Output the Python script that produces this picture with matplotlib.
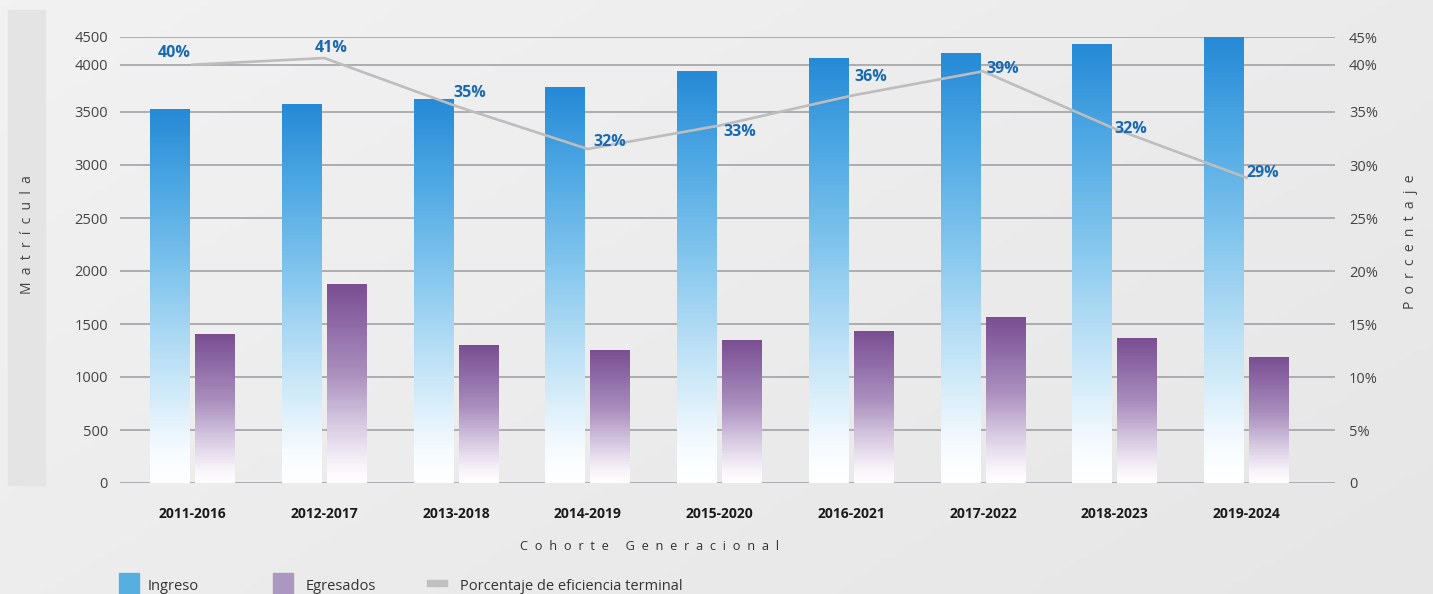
import numpy as np
import matplotlib.pyplot as plt
from matplotlib.colors import LinearSegmentedColormap
from matplotlib.patches import Rectangle

plt.rcParams['font.family'] = ['Open Sans', 'DejaVu Sans']

# data
cohortes = ["2011-2016", "2012-2017", "2013-2018", "2014-2019", "2015-2020",
            "2016-2021", "2017-2022", "2018-2023", "2019-2024"]
ingreso = [3530, 3585, 3630, 3765, 3935, 4125, 4215, 4375, 4500]
egresados = [1405, 1880, 1300, 1255, 1350, 1435, 1565, 1370, 1190]
eficiencia = [40.0, 41.2, 35.6, 31.5, 33.7, 36.7, 39.3, 33.4, 28.8]
etiquetas = ["40%", "41%", "35%", "32%", "33%", "36%", "39%", "32%", "29%"]

ticks_mat = [0, 500, 1000, 1500, 2000, 2500, 3000, 3500, 4000, 4500]
ticks_pct = [0, 5, 10, 15, 20, 25, 30, 35, 40, 45]
labels_pct = ["0"] + [f"{t}%" for t in ticks_pct[1:]]

# the original axis is squeezed above 3500: pixel height of each gridline
alto_grid = [0, 53, 106, 158.7, 212, 265, 318, 371.3, 418.3, 446]

# label offsets in pixels (dx, dy down) from each point of the line
offs = [(-18.5, -12), (7, -10), (14, -13), (22, -7), (20, 6),
        (20, -19), (20, -2), (16, 0), (16, -5)]


def make_scale(ticks):
    t = np.array(ticks, float)
    p = np.array(alto_grid, float)

    def fwd(v):
        v = np.asarray(v, float)
        out = np.interp(v, t, p)
        out = np.where(v < t[0], p[0] + (v - t[0]) * (p[1] - p[0]) / (t[1] - t[0]), out)
        out = np.where(v > t[-1], p[-1] + (v - t[-1]) * (p[-1] - p[-2]) / (t[-1] - t[-2]), out)
        return out

    def inv(q):
        q = np.asarray(q, float)
        out = np.interp(q, p, t)
        out = np.where(q < p[0], t[0] + (q - p[0]) * (t[1] - t[0]) / (p[1] - p[0]), out)
        out = np.where(q > p[-1], t[-1] + (q - p[-1]) * (t[-1] - t[-2]) / (p[-1] - p[-2]), out)
        return out
    return fwd, inv


def espaciado(s):
    # wide letter spacing like the original axis titles
    return "  ".join(s)


W, H = 1433, 594
fig = plt.figure(figsize=(W / 100, H / 100), dpi=100)

# background
bg = fig.add_axes([0, 0, 1, 1], zorder=-10)
gx, gy = np.meshgrid(np.linspace(0, 1, 200), np.linspace(0, 1, 100))
bg.imshow(0.6 * gx + 0.4 * gy, cmap=LinearSegmentedColormap.from_list('bg', ['#f2f2f2', '#e6e6e6']),
          aspect='auto', extent=(0, 1, 0, 1), origin='upper')
bg.axis('off')
fig.patches.append(Rectangle((8 / W, 1 - 485 / H), 37 / W, 475 / H, transform=fig.transFigure,
                             color='#e4e4e4', zorder=-5))

ax = fig.add_axes([120 / W, 1 - 483 / H, 1215 / W, 446 / H])
ax.patch.set_alpha(0)
fwd, inv = make_scale(ticks_mat)
ax.set_yscale('function', functions=(fwd, inv))
ax.set_ylim(0, 4500)
ax.set_xlim(-72.5 / 131.75, 1142.5 / 131.75)

cmap_in = LinearSegmentedColormap.from_list('in', [(0, '#ffffff'), (0.08, '#f7fbfe'), (0.3, '#c2e3f6'),
                                                  (0.57, '#7ec3ec'), (0.8, '#4ba6e2'), (1, '#2589d6')])
cmap_eg = LinearSegmentedColormap.from_list('eg', [(0, '#ffffff'), (0.1, '#f6f2f8'), (0.3, '#d6c8e1'),
                                                  (0.55, '#aa8fbd'), (0.8, '#8e6aa6'), (1, '#7a4e92')])

N = 90
w = 40 / 131.75
d = 22.5 / 131.75
for i in range(len(cohortes)):
    for h, dx, cm in ((ingreso[i], -d, cmap_in), (egresados[i], d, cmap_eg)):
        edges = inv(np.linspace(0, fwd(h), N + 1))
        cols = cm((np.arange(N) + 0.5) / N)
        ax.bar(np.full(N, i + dx), np.diff(edges), bottom=edges[:-1], width=w,
               color=cols, linewidth=0, antialiased=False, zorder=2)

ax.set_yticks(ticks_mat)
ax.set_yticklabels([str(t) for t in ticks_mat])
ax.grid(axis='y', color='#a0a2a6', lw=1.2, zorder=1)
ax.set_axisbelow(True)
ax.tick_params(axis='y', length=0, pad=8.6, labelsize=10.5, labelcolor='#444444')
ax.set_xticks(range(len(cohortes)))
ax.set_xticklabels(cohortes, fontweight='bold', fontsize=10, color='#1a1a1a')
ax.tick_params(axis='x', length=0, pad=17.5)
for s in ax.spines.values():
    s.set_visible(False)

ax2 = ax.twinx()
f2, i2 = make_scale(ticks_pct)
ax2.set_yscale('function', functions=(f2, i2))
ax2.set_ylim(0, 45)
ax2.set_yticks(ticks_pct)
ax2.set_yticklabels(labels_pct)
ax2.tick_params(axis='y', length=0, pad=10, labelsize=10.5, labelcolor='#444444')
for s in ax2.spines.values():
    s.set_visible(False)
x = np.arange(len(cohortes))
ax2.plot(x, eficiencia, color='#bdbdbd', lw=1.9, zorder=3)
for xi, v, lab, (ox, oy) in zip(x, eficiencia, etiquetas, offs):
    ax2.annotate(lab, (xi, v), xytext=(ox * 0.72, -oy * 0.72), textcoords='offset points',
                 ha='center', va='center', fontsize=11.5, fontweight='bold', color='#1769b3')

# axis titles
fig.text(28 / W, 1 - 235 / H, espaciado("Matrícula"), rotation=90, ha='center', va='center',
         fontsize=10, color='#444444')
fig.text(1410 / W, 1 - 242 / H, espaciado("Porcentaje"), rotation=90, ha='center', va='center',
         fontsize=10, color='#444444')
fig.text(649 / W, 1 - 547 / H, espaciado("Cohorte Generacional"), ha='center', va='center',
         fontsize=9.2, color='#333333')

# legend
leg = [("Ingreso", '#56afe0', 119, 148, 'sq'),
       ("Egresados", '#ab97c2', 273, 306, 'sq'),
       ("Porcentaje de eficiencia terminal", '#c0c0c0', 427, 460, 'ln')]
for txt, col, x0, xt, kind in leg:
    if kind == 'sq':
        fig.patches.append(Rectangle((x0 / W, 0), 20 / W, 21 / H, transform=fig.transFigure, color=col))
    else:
        fig.patches.append(Rectangle((x0 / W, 1 - 586 / H), 20 / W, 6 / H, transform=fig.transFigure, color=col))
    fig.text(xt / W, 1 - 586 / H, txt, ha='left', va='center', fontsize=10.5, color='#333333')

fig.savefig('out.png', dpi=100, facecolor='#eeeeee')
